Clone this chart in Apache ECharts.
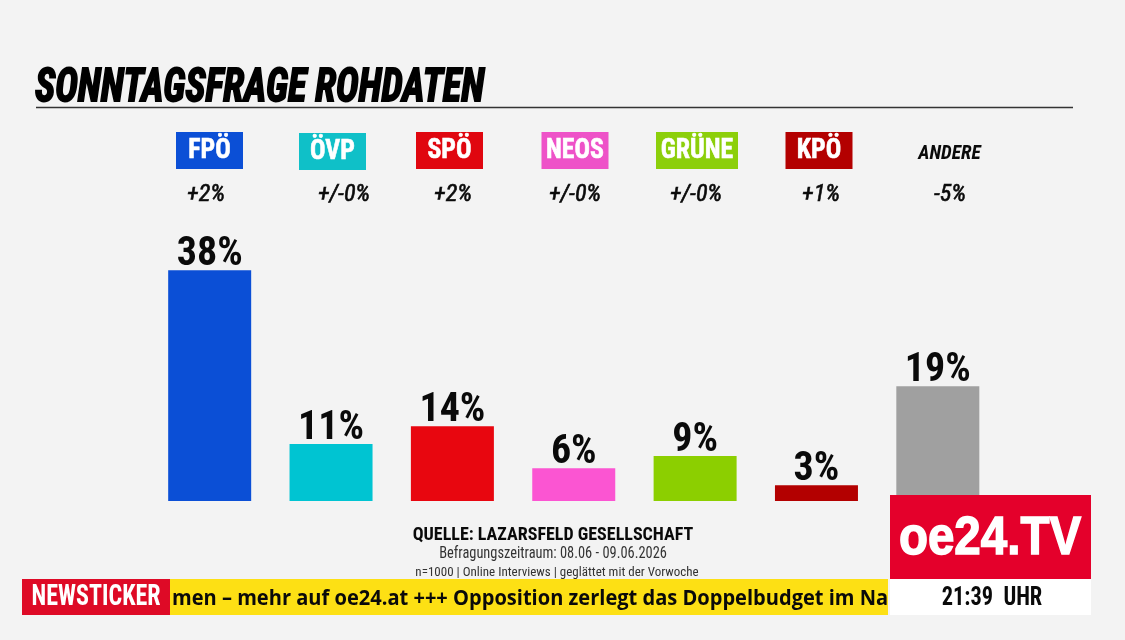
<!DOCTYPE html>
<html><head><meta charset="utf-8">
<style>html,body{margin:0;padding:0;background:#f3f3f3}#c{width:1125px;height:640px}</style>
<script src="https://cdn.jsdelivr.net/npm/echarts@6/dist/echarts.min.js"></script>
</head><body><div id="c"></div>
<script>
const parties = ['FPÖ','ÖVP','SPÖ','NEOS','GRÜNE','KPÖ','ANDERE'];
// Printed percentages, as shown above each bar
const printedLabels = ['38%','11%','14%','6%','9%','3%','19%'];
// Bar lengths as measured in the picture, in percentage points of the FPÖ bar's scale
const barHeights = [38, 9.4, 12.3, 5.4, 7.4, 2.6, 18.9];
const changes = ['+2%','+/-0%','+2%','+/-0%','+/-0%','+1%','-5%'];
const colors = ['#0b4fd6','#00c4d2','#e8060f','#fb55d2','#8ccf00','#b30000','#a0a0a0'];
const chipColors = ['#0b4fd6','#0fc0c8','#e0060f','#ee52c8','#8ccf0a','#b30000',null];

const chipX = [209.5,332.5,449.5,575,697,819,949.5];
const chipW = [67,67,67,67,82,67,0];
const chipY = [132,133,132,132,132,132,132];
const changeX = [206,344,453,575,696,821,950];

const NARROW = '"Liberation Sans Narrow","Roboto Condensed","Liberation Sans",sans-serif';
const g = [];
function txt(x,y,text,o){
  g.push({type:'text',x,y,z:o.z||20,scaleX:o.sx||1,scaleY:o.sy||1,style:{x:0,y:0,text,
    fill:o.fill||'#0a0a0a',font:`${o.style||'normal'} ${o.weight||'bold'} ${o.size}px ${o.family||NARROW}`,
    align:o.align||'center',verticalAlign:'middle',stroke:o.stroke,lineWidth:o.lw||0}});
}
function box(x,y,w,h,fill,z){ g.push({type:'rect',z:z||10,shape:{x,y,width:w,height:h},style:{fill}}); }

// title and rule
txt(35,89.5,'SONNTAGSFRAGE ROHDATEN',{size:46,style:'italic',align:'left',sx:0.84,sy:1.02,stroke:'#000',lw:1.8,fill:'#000'});
g.push({type:'line',z:10,shape:{x1:36,y1:107.5,x2:1073,y2:107.5},style:{stroke:'#333',lineWidth:1.5}});

// party chips and weekly changes
parties.forEach((p,i)=>{
  if(chipColors[i]){
    box(chipX[i]-chipW[i]/2,chipY[i],chipW[i],37,chipColors[i]);
    txt(chipX[i],chipY[i]+19,p,{size:28,fill:'#fff',sx:0.92,stroke:'#fff',lw:0.6});
  } else {
    txt(chipX[i],154,p,{size:20,style:'italic',sx:0.97});
  }
  txt(changeX[i],195,changes[i],{size:24,style:'italic',weight:'normal',stroke:'#0a0a0a',lw:0.6});
});

// source block
txt(553,535,'QUELLE: LAZARSFELD GESELLSCHAFT',{size:18});
txt(553,553.5,'Befragungszeitraum: 08.06 - 09.06.2026',{size:16,weight:'normal',fill:'#333',sx:0.9});
txt(557,572.5,'n=1000 | Online Interviews | geglättet mit der Vorwoche',{size:13,weight:'normal',fill:'#333'});

// ticker
box(170,579,718,36,'#fde014',12);
box(22,579,148,36,'#de0a26',13);
txt(96,597,'NEWSTICKER',{size:30,fill:'#fff',z:14,sx:0.8});
txt(172,599,'men – mehr auf oe24.at +++ Opposition zerlegt das Doppelbudget im Na',{size:21,align:'left',family:'"Open Sans",sans-serif',z:13,sx:0.955});

// logo
box(888,579,6,36,'#f3f3f3',15);
box(890,495,201,84,'#e4002b',15);
box(890,579,201,36,'#ffffff',15);
txt(990,539,'oe24.TV',{size:54,fill:'#fff',z:16,family:'"Liberation Sans",sans-serif',sx:0.88,stroke:'#fff',lw:1.5});
txt(992,598,'21:39  UHR',{size:26,z:16,sx:0.86});

const chart = echarts.init(document.getElementById('c'),null,{renderer:'canvas'});
chart.setOption({
  animation:false,
  backgroundColor:'#f3f3f3',
  grid:{left:149,width:849.5,top:258,height:243,containLabel:false},
  xAxis:{type:'category',data:parties,axisLine:{show:false},axisTick:{show:false},axisLabel:{show:false}},
  yAxis:{type:'value',min:0,max:40,show:false,splitLine:{show:false}},
  series:[{type:'bar',barWidth:83,
    data:barHeights.map((v,i)=>({value:v,itemStyle:{color:colors[i]}})),
    label:{show:true,position:'top',distance:-5,
      formatter:p=>printedLabels[p.dataIndex],
      fontFamily:NARROW,fontWeight:'bold',fontSize:40,color:'#0a0a0a'}}],
  graphic:g
});
</script></body></html>
